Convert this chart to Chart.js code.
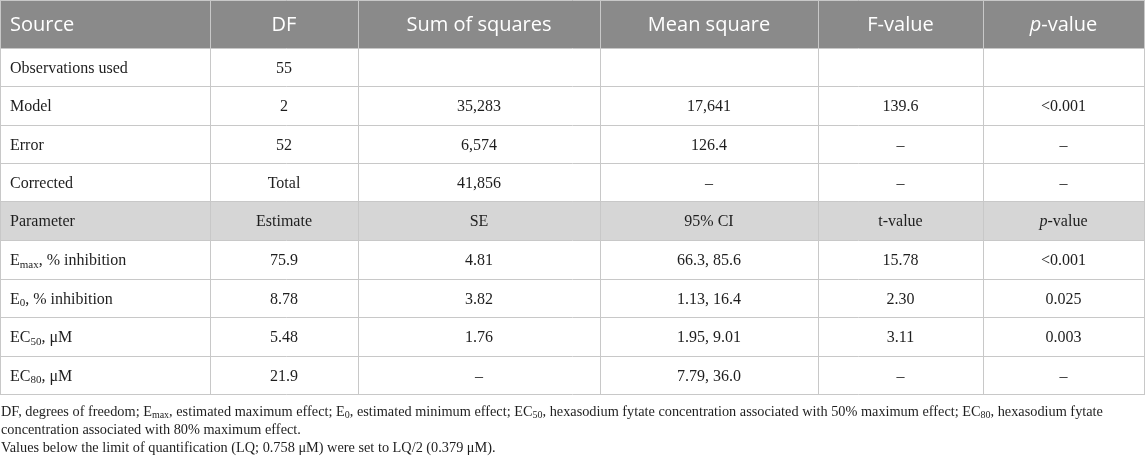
<!DOCTYPE html>
<html>
<head>
<meta charset="utf-8">
<script src="https://cdn.jsdelivr.net/npm/chart.js@4.4.0/dist/chart.umd.min.js"></script>
<style>
  html, body { margin: 0; padding: 0; background: #fff; }
  #wrap { width: 1145px; height: 461px; position: relative; }
</style>
</head>
<body>
<div id="wrap"><canvas id="tbl"></canvas></div>
<script>
// table content
const headers = ['Source', 'DF', 'Sum of squares', 'Mean square', 'F-value', '*p*-value']
const anovaRows = ['Observations used', 'Model', 'Error', 'Corrected']
const anovaDF = ['55', '2', '52', 'Total']
const anovaSS = ['', '35,283', '6,574', '41,856']
const anovaMS = ['', '17,641', '126.4', '–']
const anovaF = ['', '139.6', '–', '–']
const anovaP = ['', '<0.001', '–', '–']

const paramHeader = ['Parameter', 'Estimate', 'SE', '95% CI', 't-value', '*p*-value']
const paramRows = ['E_{max}, % inhibition', 'E_{0}, % inhibition', 'EC_{50}, μM', 'EC_{80}, μM']
const paramEst = ['75.9', '8.78', '5.48', '21.9']
const paramSE = ['4.81', '3.82', '1.76', '–']
const paramCI = ['66.3, 85.6', '1.13, 16.4', '1.95, 9.01', '7.79, 36.0']
const paramT = ['15.78', '2.30', '3.11', '–']
const paramP = ['<0.001', '0.025', '0.003', '–']

const notes = [
  'DF, degrees of freedom; E_{max}, estimated maximum effect; E_{0}, estimated minimum effect; EC_{50}, hexasodium fytate concentration associated with 50% maximum effect; EC_{80}, hexasodium fytate',
  'concentration associated with 80% maximum effect.',
  'Values below the limit of quantification (LQ; 0.758 μM) were set to LQ/2 (0.379 μM).'
]

// layout (in scale units = px)
const colEdges = [0, 210, 358, 600, 818, 983, 1144]
const headH = 48
const rowEdges = [48, 86, 125, 163, 201, 240, 279, 317, 356, 394]

const SERIF = '"Liberation Serif", "DejaVu Serif", serif'
const SANS = '"Open Sans", "Noto Sans", sans-serif'

// split "E_{max}, *p*" into runs
function runs (s) {
  const out = []
  const re = /_\{([^}]*)\}|\*([^*]*)\*|([^_*]+)/g
  let m
  while ((m = re.exec(s))) {
    if (m[1] !== undefined) out.push({ t: m[1], sub: true })
    else if (m[2] !== undefined) out.push({ t: m[2], it: true })
    else out.push({ t: m[3] })
  }
  return out
}

function drawRich (ctx, s, x, y, size, family, align, color) {
  const parts = runs(s)
  const fontFor = p => (p.it ? 'italic ' : '') + (p.sub ? Math.round(size * 0.68) : size) + 'px ' + family
  let w = 0
  parts.forEach(p => { ctx.font = fontFor(p); p.w = ctx.measureText(p.t).width; w += p.w })
  let cx = align === 'center' ? x - w / 2 : x
  ctx.fillStyle = color
  ctx.textAlign = 'left'
  ctx.textBaseline = 'alphabetic'
  parts.forEach(p => {
    ctx.font = fontFor(p)
    ctx.fillText(p.t, cx, p.sub ? y + size * 0.18 : y)
    cx += p.w
  })
}

const tablePlugin = {
  id: 'tablePlugin',
  afterDraw (chart) {
    const ctx = chart.ctx
    const xs = chart.scales.x
    const ys = chart.scales.y
    const X = v => xs.getPixelForValue(v)
    const Y = v => ys.getPixelForValue(v)
    ctx.save()

    // header band
    ctx.fillStyle = '#8a8a8a'
    ctx.fillRect(X(0), Y(0), X(colEdges[6]) - X(0), Y(headH) - Y(0))
    // parameter band
    ctx.fillStyle = '#d6d6d6'
    ctx.fillRect(X(0), Y(rowEdges[4]), X(colEdges[6]) - X(0), Y(rowEdges[5]) - Y(rowEdges[4]))

    // grid lines
    ctx.strokeStyle = '#c8c8c8'
    ctx.lineWidth = 1
    const bottom = rowEdges[rowEdges.length - 1]
    colEdges.forEach(c => {
      ctx.beginPath()
      ctx.moveTo(Math.round(X(c)) + 0.5, Y(0))
      ctx.lineTo(Math.round(X(c)) + 0.5, Y(bottom))
      ctx.stroke()
    })
    ;[0].concat(rowEdges).forEach(r => {
      ctx.beginPath()
      ctx.moveTo(X(0), Math.round(Y(r)) + 0.5)
      ctx.lineTo(X(colEdges[6]) + 1, Math.round(Y(r)) + 0.5)
      ctx.stroke()
    })

    const colX = (i, first) => first ? X(colEdges[0] + 10) : X((colEdges[i] + colEdges[i + 1]) / 2)

    // header text
    headers.forEach((h, i) => {
      drawRich(ctx, h, colX(i, i === 0), Y(headH / 2 + 7), 20, SANS, i === 0 ? 'left' : 'center', '#ffffff')
    })

    const body = [
      [anovaRows, anovaDF, anovaSS, anovaMS, anovaF, anovaP],
      [paramRows, paramEst, paramSE, paramCI, paramT, paramP]
    ]
    const drawRow = (cells, r) => {
      const mid = (rowEdges[r] + rowEdges[r + 1]) / 2
      cells.forEach((c, i) => {
        if (c) drawRich(ctx, c, colX(i, i === 0), Y(mid + 5.5), 16, SERIF, i === 0 ? 'left' : 'center', '#1e1e1e')
      })
    }
    anovaRows.forEach((_, k) => drawRow(body[0].map(col => col[k]), k))
    drawRow(paramHeader, 4)
    paramRows.forEach((_, k) => drawRow(body[1].map(col => col[k]), 5 + k))

    // footnotes
    notes.forEach((n, k) => {
      drawRich(ctx, n, X(1), Y(415.5 + k * 18.3), 14.3, SERIF, 'left', '#1e1e1e')
    })
    ctx.restore()
  }
}

new Chart(document.getElementById('tbl'), {
  type: 'scatter',
  data: { datasets: [{ data: [], showLine: false }] },
  options: {
    responsive: true,
    maintainAspectRatio: false,
    animation: false,
    layout: { padding: 0 },
    plugins: { legend: { display: false }, tooltip: { enabled: false } },
    scales: {
      x: { type: 'linear', min: 0, max: 1145, display: false },
      y: { type: 'linear', min: 0, max: 461, reverse: true, display: false }
    }
  },
  plugins: [tablePlugin]
})
</script>
</body>
</html>
